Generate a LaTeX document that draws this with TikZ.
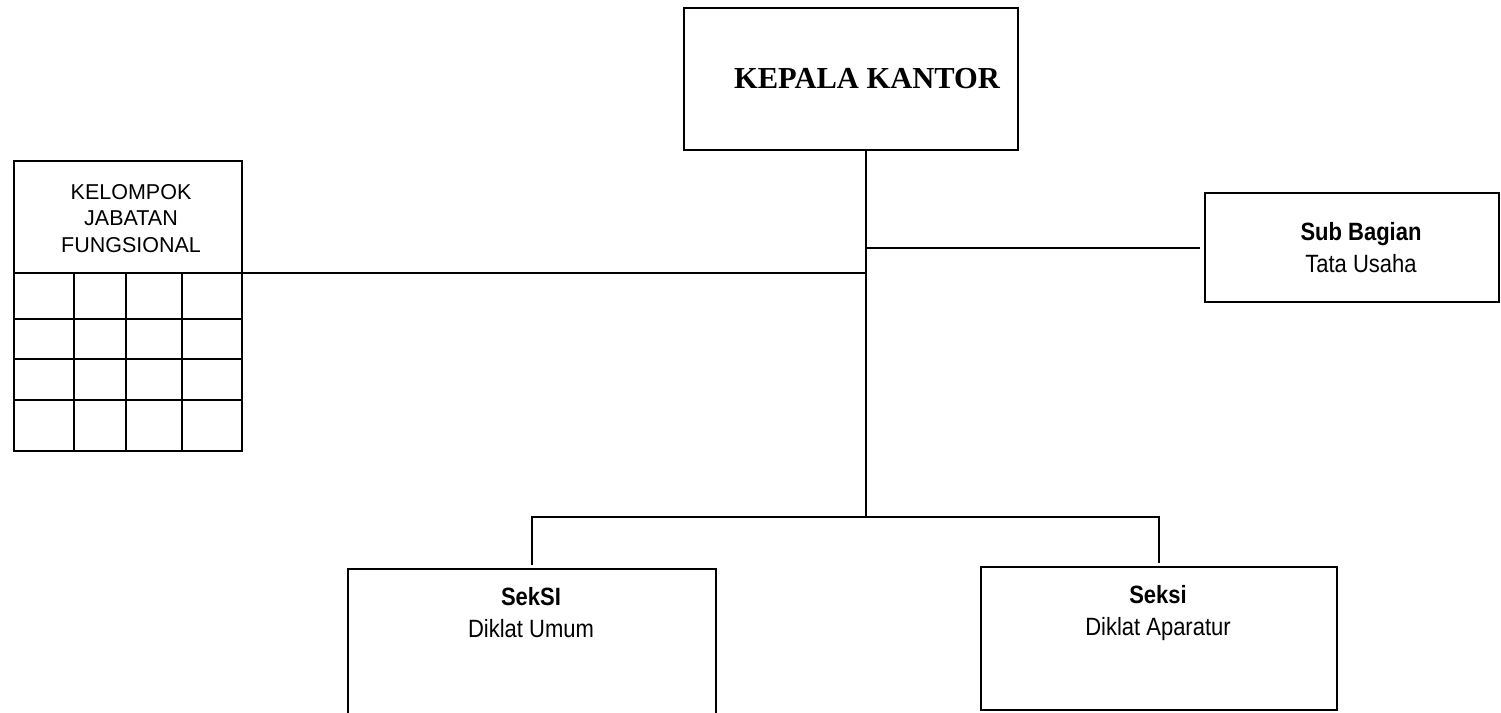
\documentclass[tikz,border=0pt]{standalone}
\usepackage{fontspec}
\setmainfont{Liberation Sans}
\newfontfamily\headserif{Liberation Serif}
\newfontfamily\narrowsans[FakeStretch=0.88]{Liberation Sans}
\begin{document}
\begin{tikzpicture}[x=1pt,y=-1pt,
  box/.style={draw, line width=2pt, rectangle, inner sep=0pt, outer sep=0pt, anchor=north west},
  conn/.style={line width=2pt},
  label/.style={inner sep=0pt, anchor=base},
  headfont/.style={font=\headserif\bfseries\fontsize{30.5}{36}\selectfont},
  kfjfont/.style={font=\fontsize{21.5}{26}\selectfont},
  titlefont/.style={font=\narrowsans\bfseries\fontsize{25}{32}\selectfont},
  subfont/.style={font=\narrowsans\fontsize{25}{32}\selectfont}]
\useasboundingbox (0,0) rectangle (1501,712);
\clip (0,0) rectangle (1501,712);

% boxes
\node[box, minimum width=334pt, minimum height=142pt] (kepala) at (684,8) {};
\node[box, minimum width=294pt, minimum height=109pt] (sub) at (1205,193) {};
\node[box, minimum width=228pt, minimum height=112pt] (kfj) at (14,161) {};
\node[box, minimum width=228pt, minimum height=178pt] (grid) at (14,273) {};
\node[box, minimum width=368pt, minimum height=160pt] (sek1) at (348,569) {};
\node[box, minimum width=356pt, minimum height=143pt] (sek2) at (981,567) {};

% grid of the functional group
\foreach \gx in {74,126,182} \draw[conn] (\gx,273) -- (\gx,451);
\foreach \gy in {319,359,400} \draw[conn] (14,\gy) -- (242,\gy);

% texts
\node[label, headfont] (tkepala) at (867,88) {KEPALA KANTOR};
\node[label, kfjfont] (tk1) at (131,199) {KELOMPOK};
\node[label, kfjfont] (tk2) at (131,225) {JABATAN};
\node[label, kfjfont] (tk3) at (131,252) {FUNGSIONAL};
\node[label, titlefont] (ts1) at (1361,240) {Sub Bagian};
\node[label, subfont] (ts2) at (1361,272) {Tata Usaha};
\node[label, titlefont] (ta1) at (531,605) {SekSI};
\node[label, subfont] (ta2) at (531,637) {Diklat Umum};
\node[label, titlefont] (tb1) at (1158,603) {Seksi};
\node[label, subfont] (tb2) at (1158,635) {Diklat Aparatur};

% connectors
\coordinate (bus) at (866,517);
\draw[conn] (kepala.south -| bus) -- (bus);
\draw[conn] (kfj.south east) -- (kfj.south east -| bus);
\draw[conn, shorten >=5pt] (bus |- sub.west) -- (sub.west);
\draw[conn, shorten >=4pt] (bus) -| (sek1.north);
\draw[conn, shorten >=4pt] (bus) -| (sek2.north);
\end{tikzpicture}
\end{document}
